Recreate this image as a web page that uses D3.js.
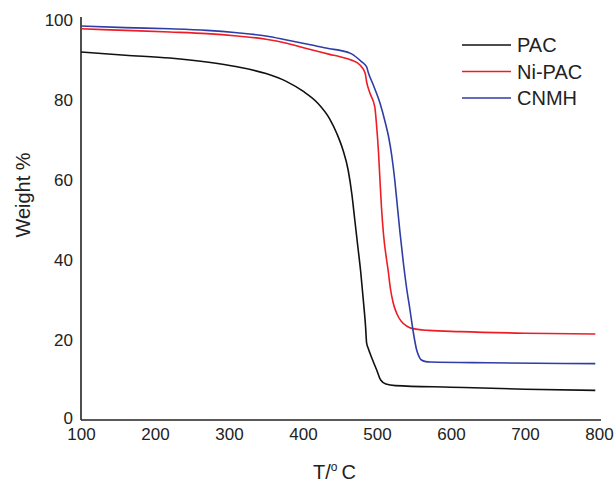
<!DOCTYPE html>
<html>
<head>
<meta charset="UTF-8">
<script src="https://cdnjs.cloudflare.com/ajax/libs/d3/7.8.5/d3.min.js"></script>
<style>
  body { margin: 0; background: #fff; }
  svg { display: block; font-family: 'Liberation Sans', Arial, sans-serif; }
</style>
</head>
<body>
<svg id="chart" width="616" height="486"></svg>
<script>
// TGA curves: [temperature °C, weight %]
const pacData = [[100,92],[160,91.2],[220,90.5],[270,89.5],[311,88.3],[350,86.6],[378,84.6],[400,82.2],[420,79.2],[436,75.3],[446,71.5],[454,67.5],[461,62.5],[466,56.5],[470,50],[474,43.5],[478,37],[482,29],[484.5,23.5],[486,19.2],[488,18],[493,15.5],[499.6,12.5],[505,10],[512,9],[525,8.6],[600,8.2],[700,7.7],[795,7.4]];
const nipacData = [[100,97.8],[160,97.4],[220,97],[270,96.6],[311,96],[350,95.2],[378,94.2],[410,92.6],[436,91.4],[450,90.8],[465,90],[477,88.75],[484,86.7],[486,84.5],[490.5,81.7],[497,78.3],[499.5,73.5],[502,67],[504,60],[506,53.3],[509,46],[513,40],[515,37.5],[518,33],[522,29.2],[527,26.5],[533,24.6],[540,23.5],[547,22.9],[570,22.4],[612,22.1],[700,21.7],[795,21.5]];
const cnmhData = [[100,98.5],[160,98.1],[220,97.8],[270,97.4],[311,96.8],[350,96],[378,95],[410,93.8],[436,92.8],[450,92.4],[465,91.6],[479,89.6],[486,88.3],[488,87],[495,83.75],[504,79.25],[511,74.5],[516,70.5],[520,66],[524,60],[527.5,53.5],[531,47],[535.5,39.5],[540,33],[544.6,27.5],[549,22],[553.6,17.5],[557,15.8],[560,15],[566,14.6],[572,14.5],[650,14.3],[795,14.1]];

const seriesNames = ["PAC", "Ni-PAC", "CNMH"];
const seriesColors = ["#111111", "#ee1c24", "#2f3da6"];
const seriesData = [pacData, nipacData, cnmhData];

const xTicks = [100, 200, 300, 400, 500, 600, 700, 800];
const yTicks = [0, 20, 40, 60, 80, 100];

const svg = d3.select("#chart");
const x = d3.scaleLinear().domain([100, 800]).range([81, 599]);
const y = d3.scaleLinear().domain([0, 100]).range([420, 20]);

// axes (no tick marks, just the lines and labels)
const xAxis = svg.append("g").attr("transform", "translate(0,420)")
  .call(d3.axisBottom(x).tickValues(xTicks).tickSize(0).tickPadding(8));
xAxis.select(".domain").attr("stroke", "#222").attr("stroke-width", 1.6).attr("d", "M81,0H601");
xAxis.selectAll("text").attr("font-size", 17).attr("fill", "#222").attr("font-family", null);

const yAxis = svg.append("g").attr("transform", "translate(81,0)")
  .call(d3.axisLeft(y).tickValues(yTicks).tickSize(0).tickPadding(8));
yAxis.select(".domain").attr("stroke", "#222").attr("stroke-width", 1.6).attr("d", "M0,17V420");
yAxis.selectAll("text").attr("font-size", 17).attr("fill", "#222").attr("font-family", null);
// the "0" sits just above the x labels, as in the original
yAxis.selectAll(".tick").filter(d => d === 0).select("text").attr("dy", "0.2em");

// curves
const line = d3.line().x(d => x(d[0])).y(d => y(d[1])).curve(d3.curveMonotoneX);
seriesData.forEach((data, i) => {
  svg.append("path")
    .datum(data)
    .attr("fill", "none")
    .attr("stroke", seriesColors[i])
    .attr("stroke-width", 1.6)
    .attr("d", line);
});

// legend
const legend = svg.append("g");
seriesNames.forEach((name, i) => {
  const ly = 45 + i * 26.5;
  legend.append("line")
    .attr("x1", 462).attr("x2", 511).attr("y1", ly).attr("y2", ly)
    .attr("stroke", seriesColors[i]).attr("stroke-width", 1.6);
  legend.append("text")
    .attr("x", 517).attr("y", ly).attr("dy", "0.36em")
    .attr("font-size", 20).attr("fill", "#222")
    .text(name);
});

// axis titles
svg.append("text")
  .attr("transform", "translate(30,195) rotate(-90)")
  .attr("text-anchor", "middle")
  .attr("font-size", 20).attr("fill", "#222")
  .text("Weight %");

const xt = svg.append("text")
  .attr("x", 313).attr("y", 479)
  .attr("font-size", 20).attr("fill", "#222");
xt.append("tspan").text("T/");
xt.append("tspan").attr("dy", -8).attr("font-size", 12).text("o");
xt.append("tspan").attr("dy", 8).text("\u2009C");
</script>
</body>
</html>
